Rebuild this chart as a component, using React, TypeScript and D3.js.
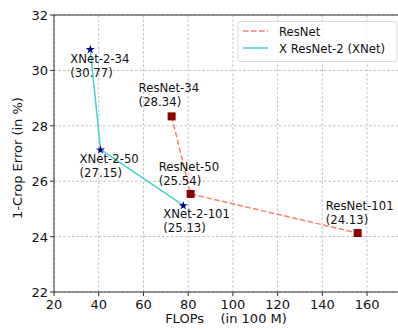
import React from "react";
import * as d3 from "d3";

const resnetNames = ["ResNet-34", "ResNet-50", "ResNet-101"];
const resnetFlops = [72.6, 81.1, 155.8];
const resnetErr = [28.34, 25.54, 24.13];

const xnetNames = ["XNet-2-34", "XNet-2-50", "XNet-2-101"];
const xnetFlops = [36.2, 40.8, 77.8];
const xnetErr = [30.77, 27.15, 25.13];

const xTicks = [20, 40, 60, 80, 100, 120, 140, 160];
const yTicks = [22, 24, 26, 28, 30, 32];

const legendLabels = ["ResNet", "X ResNet-2 (XNet)"];

const W = 398, H = 329;
const M = { left: 54, top: 15, right: 400.6, bottom: 292 };

// label pixel offsets (dx from point, dy to first baseline)
const labelOffsets: Record<string, [number, number]> = {
  "XNet-2-34": [-20, 14],
  "XNet-2-50": [-21, 14],
  "XNet-2-101": [-20, 13],
  "ResNet-34": [-33, -24],
  "ResNet-50": [-32, -23],
  "ResNet-101": [-32, -23],
};

export default function App() {
  const x = d3.scaleLinear().domain([20, 175]).range([M.left, M.right]);
  const y = d3.scaleLinear().domain([22, 32]).range([M.bottom, M.top]);
  const line = d3.line<[number, number]>().x(d => x(d[0])).y(d => y(d[1]));
  const resPts = resnetFlops.map((f, i) => [f, resnetErr[i]] as [number, number]);
  const xPts = xnetFlops.map((f, i) => [f, xnetErr[i]] as [number, number]);
  const font = "DejaVu Sans, sans-serif";
  const star = d3.symbol(d3.symbolStar, 25)() as string;
  const fs = 11.7;

  const labels = [
    ...xnetNames.map((n, i) => ({ n, v: xnetErr[i], px: x(xnetFlops[i]), py: y(xnetErr[i]) })),
    ...resnetNames.map((n, i) => ({ n, v: resnetErr[i], px: x(resnetFlops[i]), py: y(resnetErr[i]) })),
  ];

  return (
    <svg width={W} height={H} style={{ position: "absolute", left: 0, top: 0, background: "#fff" }} fontFamily={font}>
      <defs>
        <clipPath id="clip"><rect x={M.left} y={M.top} width={M.right - M.left} height={M.bottom - M.top} /></clipPath>
      </defs>
      {/* grid */}
      {xTicks.map(t => (
        <line key={"gx" + t} x1={x(t)} x2={x(t)} y1={M.top} y2={M.bottom} stroke="#b0b0b0" strokeWidth={0.8} strokeDasharray="2.5,2" />
      ))}
      {yTicks.map(t => (
        <line key={"gy" + t} x1={M.left} x2={M.right} y1={y(t)} y2={y(t)} stroke="#b0b0b0" strokeWidth={0.8} strokeDasharray="2.5,2" />
      ))}
      <g clipPath="url(#clip)">
        <path d={line(resPts) as string} fill="none" stroke="#fa8072" strokeWidth={1.5} strokeDasharray="5.5,2.5" />
        <path d={line(xPts) as string} fill="none" stroke="#48d1cc" strokeWidth={1.5} />
        {resPts.map((p, i) => (
          <rect key={"r" + i} x={x(p[0]) - 4} y={y(p[1]) - 4} width={8} height={8} fill="#8b0000" />
        ))}
        {xPts.map((p, i) => (
          <path key={"s" + i} d={star} transform={`translate(${x(p[0])},${y(p[1]) + 0.5})`} fill="#00008b" />
        ))}
      </g>
      {/* spines */}
      <rect x={M.left} y={M.top} width={M.right - M.left} height={M.bottom - M.top} fill="none" stroke="#333" strokeWidth={1} />
      {/* ticks */}
      {xTicks.map(t => (
        <g key={"tx" + t}>
          <line x1={x(t)} x2={x(t)} y1={M.bottom} y2={M.bottom + 4} stroke="#333" />
          <text x={x(t)} y={M.bottom + 17} textAnchor="middle" fontSize={13} fill="#111">{t}</text>
        </g>
      ))}
      {yTicks.map(t => (
        <g key={"ty" + t}>
          <line x1={M.left - 4} x2={M.left} y1={y(t)} y2={y(t)} stroke="#333" />
          <text x={M.left - 6} y={y(t) + 5} textAnchor="end" fontSize={13} fill="#111">{t}</text>
        </g>
      ))}
      {/* annotations */}
      {labels.map(l => {
        const [dx, dy] = labelOffsets[l.n];
        return (
          <text key={l.n} x={l.px + dx} y={l.py + dy} fontSize={fs} fill="#111">
            <tspan x={l.px + dx}>{l.n}</tspan>
            <tspan x={l.px + dx} dy={13.8}>({l.v.toFixed(2)})</tspan>
          </text>
        );
      })}
      {/* axis labels */}
      <text x={226} y={323} textAnchor="middle" fontSize={13} fill="#111" xmlSpace="preserve">{"FLOPs    (in 100 M)"}</text>
      <text transform={`translate(22,158) rotate(-90)`} textAnchor="middle" fontSize={13} fill="#111">1-Crop Error (in %)</text>
      {/* legend */}
      <rect x={238} y={21.5} width={159} height={40} rx={3} fill="#fff" fillOpacity={0.85} stroke="#d0d0d0" strokeWidth={0.8} />
      <line x1={243} x2={268} y1={31} y2={31} stroke="#fa8072" strokeWidth={1.5} strokeDasharray="5.5,2.5" />
      <text x={279} y={35.5} fontSize={fs} fill="#111">{legendLabels[0]}</text>
      <line x1={243} x2={268} y1={48} y2={48} stroke="#48d1cc" strokeWidth={1.5} />
      <text x={279} y={52.5} fontSize={fs} fill="#111">{legendLabels[1]}</text>
    </svg>
  );
}
